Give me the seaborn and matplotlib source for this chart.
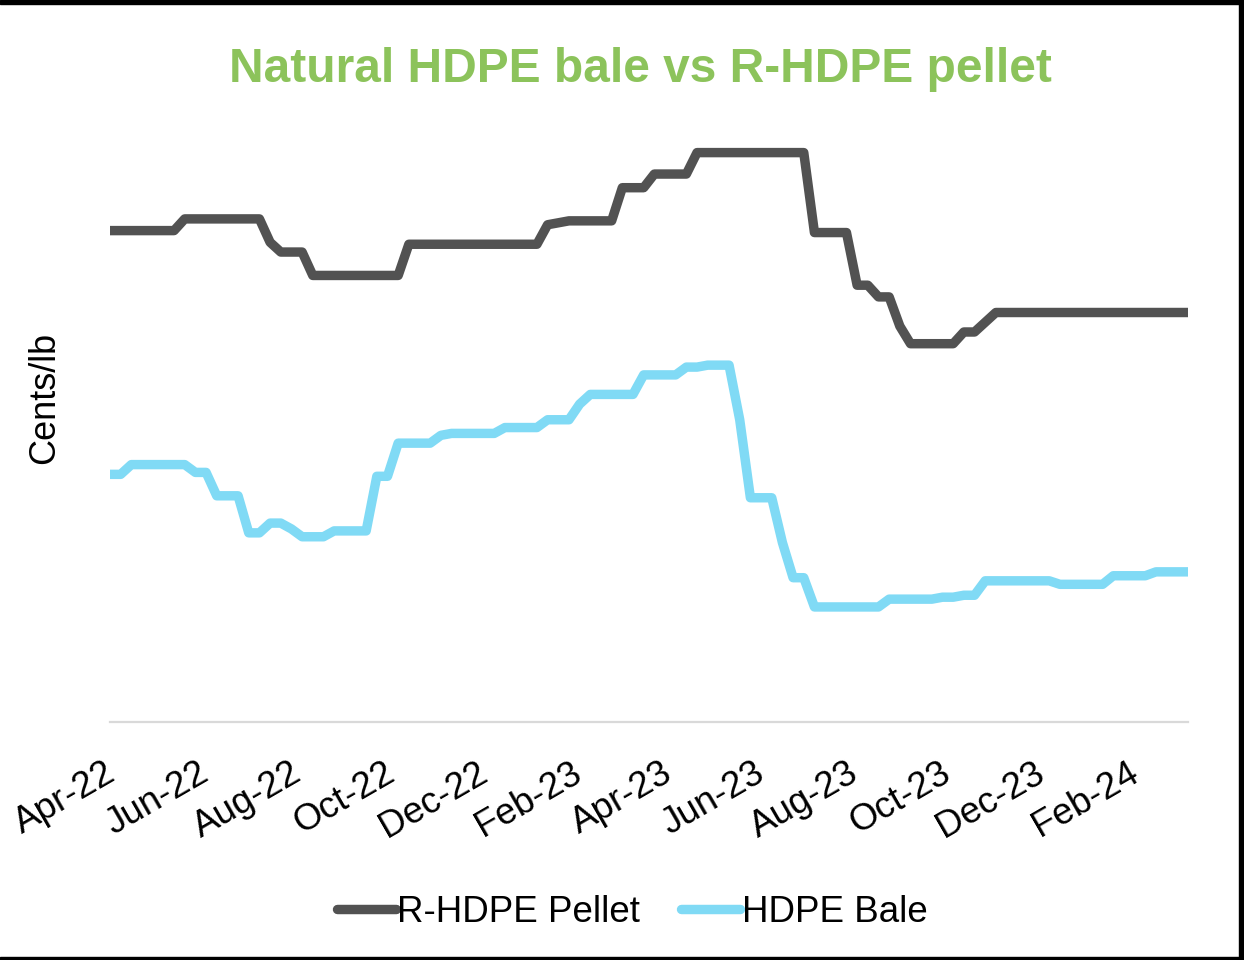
import numpy as np
import pandas as pd
import matplotlib
matplotlib.use("Agg")
import matplotlib.pyplot as plt
import matplotlib.dates as mdates
import matplotlib.transforms as mtransforms
import seaborn as sns

# ---------------- data (weekly, cents/lb) ----------------
start_date = "2022-04-01"
n_weeks = 102

pellet = ([126.0] * 7 + [129.0] * 8 + [123.0] + [120.5] * 3 + [114.5] * 9 +
          [122.5] * 13 + [127.5, 128.0] + [128.5] * 5 + [137.0] * 3 +
          [140.5] * 4 + [146.0] * 11 + [125.5] * 4 + [112.0] * 2 +
          [109.0] * 2 + [101.5] + [97.0] * 5 + [100.0] * 2 + [102.5] +
          [105.0] * 19)

bale = ([63.5] * 2 + [66.0] * 6 + [64.0] * 2 + [58.0] * 3 + [48.5] * 2 +
        [51.0] * 2 + [49.5] + [47.5] * 3 + [49.0] * 4 + [63.0] * 2 +
        [71.5] * 4 + [73.5] + [74.0] * 5 + [75.5] * 4 + [77.5] * 3 +
        [81.5] + [84.0] * 5 + [89.0] * 4 + [91.0] * 2 + [91.5] * 3 +
        [77.5] + [57.5] * 3 + [46.0] + [37.0] * 2 + [29.5] * 7 +
        [31.5] * 5 + [32.0] * 2 + [32.5] * 2 + [36.2] * 7 + [35.3] * 5 +
        [37.5] * 4 + [38.5] * 4)

series_names = ["R-HDPE Pellet", "HDPE Bale"]
series_colors = ["#525252", "#80DAF5"]
title_text = "Natural HDPE bale vs R-HDPE pellet"
y_label = "Cents/lb"

dates = pd.date_range(start_date, periods=n_weeks, freq="7D")
df = pd.concat([
    pd.DataFrame({"Date": dates, "Value": pellet, "Series": series_names[0]}),
    pd.DataFrame({"Date": dates, "Value": bale, "Series": series_names[1]}),
], ignore_index=True)

# ---------------- plotting ----------------
sns.set_theme(style="white")
plt.rcParams["font.family"] = ["Liberation Sans", "DejaVu Sans"]
plt.rcParams["text.color"] = "black"

W, H = 1244, 960
fig = plt.figure(figsize=(W / 100, H / 100), dpi=100)
ax = fig.add_axes([110 / W, 1 - 722 / H, (1188 - 110) / W, (722 - 98) / H])

LW = 6.8
sns.lineplot(data=df, x="Date", y="Value", hue="Series",
             palette=dict(zip(series_names, series_colors)),
             linewidth=LW, ax=ax, legend=False, estimator=None)
for ln in ax.get_lines():
    ln.set_solid_capstyle("round")
    ln.set_solid_joinstyle("round")

ax.set_xlim(dates[0], dates[-1])
ax.set_ylim(0, 160)
ax.set_yticks([])
ax.xaxis.set_major_locator(mdates.MonthLocator(bymonth=[2, 4, 6, 8, 10, 12]))
ax.xaxis.set_major_formatter(mdates.DateFormatter("%b-%y"))
ax.tick_params(axis="x", length=0, pad=24, labelsize=26.5, labelcolor="black")
shift = mtransforms.ScaledTranslation(-6 / 100, 0, fig.dpi_scale_trans)
for lab in ax.get_xticklabels():
    lab.set_rotation(30)
    lab.set_ha("right")
    lab.set_va("top")
    lab.set_rotation_mode("anchor")
    lab.set_transform(lab.get_transform() + shift)

for s in ["top", "right", "left"]:
    ax.spines[s].set_visible(False)
ax.spines["bottom"].set_color("#D9D9D9")
ax.spines["bottom"].set_linewidth(1.6)

ax.set_xlabel("")
ax.set_ylabel(y_label, fontsize=26, color="black")
ax.yaxis.set_label_coords((62 - 110) / 1078, (722 - 398) / 624)

fig.text(640 / W, 1 - 69 / H, title_text, ha="center", va="center",
         fontsize=34.5, fontweight="bold", color="#8CC35B")

handles = [plt.Line2D([0], [0], color=c, lw=LW, solid_capstyle="round")
           for c in series_colors]
leg = fig.legend(handles, series_names, loc="center", bbox_to_anchor=(632 / W, 1 - 912 / H),
                 ncol=2, frameon=False, fontsize=26.5, handlelength=1.6,
                 handletextpad=0.05, columnspacing=1.1)
for t in leg.get_texts():
    t.set_color("black")

# black frame edges (top, right, bottom) as in the screenshot
fig.patches.append(plt.Rectangle((0, 1 - 4 / H), 1, 4 / H, transform=fig.transFigure,
                                 color="black", zorder=10))
fig.patches.append(plt.Rectangle((1 - 5 / W, 0), 5 / W, 1, transform=fig.transFigure,
                                 color="black", zorder=10))
fig.patches.append(plt.Rectangle((0, 0), 1, 3 / H, transform=fig.transFigure,
                                 color="black", zorder=10))

fig.savefig("out.png", dpi=100, facecolor="white")
